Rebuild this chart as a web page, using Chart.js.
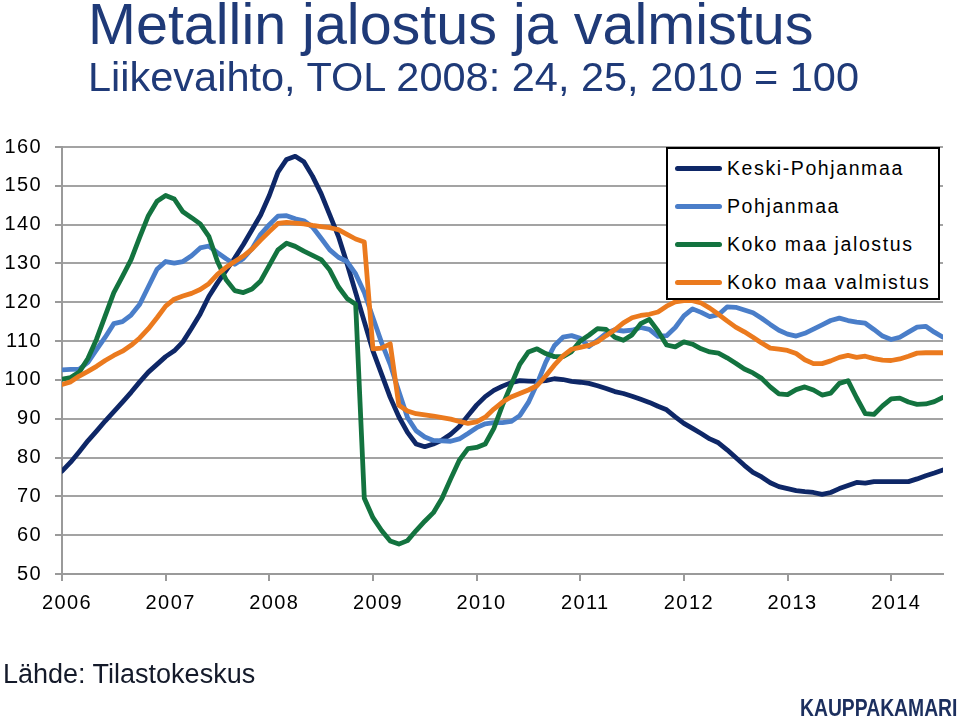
<!DOCTYPE html>
<html><head><meta charset="utf-8">
<script src="https://cdn.jsdelivr.net/npm/chart.js@4/dist/chart.umd.min.js"></script>
<style>
html,body{margin:0;padding:0;background:#fff;}
#wrap{position:relative;width:960px;height:720px;overflow:hidden;font-family:"Liberation Sans",Arial,sans-serif;}
canvas{position:absolute;left:0;top:0;}
.t{position:absolute;white-space:nowrap;line-height:1;}
#title{left:88px;top:-4px;font-size:57.5px;color:#1F3A78;}
#subtitle{left:88px;top:56px;font-size:41.5px;color:#1F3A78;}
#source{left:3px;top:661px;font-size:27px;color:#141a2a;}
#logo{left:800px;top:697px;font-size:23px;font-weight:bold;color:#1c2f5e;transform:scaleX(0.84);transform-origin:0 0;}
#legend{position:absolute;left:666px;top:147px;width:274px;height:153px;border:2px solid #000;box-sizing:border-box;background:#fff;}
.lline{position:absolute;height:5px;border-radius:2.5px;}
.ltext{position:absolute;white-space:nowrap;line-height:1;font-size:19.5px;letter-spacing:1.6px;color:#000;}
</style></head>
<body><div id="wrap">
<canvas id="c" width="960" height="720"></canvas>
<div class="t" id="title">Metallin jalostus ja valmistus</div>
<div class="t" id="subtitle">Liikevaihto, TOL 2008: 24, 25, 2010 = 100</div>
<div id="legend"></div>
<div class="t" id="source">Lähde: Tilastokeskus</div>
<div class="t" id="logo">KAUPPAKAMARI</div>
</div>
<script>
// Monthly data, Jan 2006 .. Jul 2014 (index 0 = Jan 2006)
const yearLabels = ['2006','2007','2008','2009','2010','2011','2012','2013','2014'];
const seriesNames = ['Keski-Pohjanmaa','Pohjanmaa','Koko maa jalostus','Koko maa valmistus'];
const seriesColors = ['#0E2767','#4A7EC9','#13733F','#EB7A1E'];

const keskiPohjanmaa = [76.5,78.8,81.5,84.3,86.8,89.4,91.8,94.3,96.8,99.5,
 102,104,106,107.5,109.8,113.3,117,121.5,125,128.2,
 131.4,134.9,138.7,142.5,147.5,153.5,156.8,157.6,156.2,152.5,
 148,142.5,137,130,122.5,115,107.5,101.5,95.5,90.5,
 86.5,83.5,82.8,83.5,84.5,86,88,90.8,93.5,95.7,
 97.3,98.4,99.3,99.8,99.7,99.6,99.8,100.3,100.1,99.6,
 99.4,99.1,98.5,97.8,97,96.5,95.8,95,94.2,93.2,
 92.3,90.5,88.8,87.5,86.2,84.8,83.8,82,80,78,
 76.2,75,73.5,72.5,72,71.5,71.2,71,70.5,71,
 72,72.8,73.6,73.4,73.8,73.8,73.8,73.8,73.8,74.5,
 75.3,76,76.8];

const pohjanmaa = [102.6,102.7,102.8,104.5,107.8,111,114.5,115,116.7,119.5,
 124,128.5,130.5,130.1,130.5,132,134,134.5,132.8,131.2,
 129.8,131.3,133.8,137.5,140,142.2,142.3,141.5,141,139.4,
 136.5,133.5,131.6,130.5,127.3,122.5,116,109.6,104,97,
 90.3,86.9,85.3,84.4,84.3,84.2,84.8,86.2,87.7,88.7,
 89,89,89.3,90.8,94.2,99,104.5,108.8,111,111.4,
 110.7,108.6,110.2,112,112.9,112.6,112.8,113.5,113,111.2,
 111.4,113.5,116.5,118.3,117.4,116.3,116.8,118.8,118.7,118,
 117.3,115.9,114.3,112.8,111.8,111.3,112,113.1,114.2,115.3,
 115.9,115.3,114.9,114.6,113,111.3,110.4,111,112.3,113.6,
 113.8,112.3,111];

const kokoMaaJalostus = [100.2,100.6,102,105.5,110.5,116.5,122.5,126.7,131,136.8,
 142.3,146,147.5,146.6,143.3,141.8,140.2,137,130.5,125.8,
 123,122.5,123.4,125.5,129.5,133.5,135.2,134.4,133.2,132.1,
 131,128.3,124,121,119.5,69.5,64.5,61.2,58.5,57.7,
 58.6,61.2,63.6,65.8,69.5,74.5,79.3,82.3,82.6,83.5,
 87.5,93.5,98.7,104,107.2,108,106.8,106,106,107.3,
 110,111.5,113.2,113,111,110.2,111.6,114.5,115.6,112.6,
 109,108.5,109.8,109.2,108,107.2,106.9,105.7,104.3,102.8,
 101.8,100.4,98.2,96.4,96.2,97.5,98.2,97.4,96.1,96.6,
 99.1,99.8,95.4,91.3,91.1,93.3,95.1,95.3,94.3,93.7,
 93.8,94.4,95.5];

const kokoMaaValmistus = [98.8,99.5,101,102.2,103.5,105,106.3,107.4,108.9,110.8,
 113.2,116,119,120.8,121.6,122.3,123.3,124.8,127.2,129,
 130.5,131.9,133.7,136,138.2,140.3,140.6,140.4,140.2,139.8,
 139.5,139.2,138.7,137.5,136.3,135.5,108,108.2,109.3,93.5,
 92,91.3,91,90.7,90.3,89.9,89.3,88.8,89.2,90.4,
 92.5,94.3,95.6,96.5,97.4,98.5,101,103.8,106.2,107.9,
 108.4,108.9,109.8,111.4,112.9,114.7,116,116.6,116.9,117.5,
 119,120.1,120.4,120.4,119.8,118.5,116.9,115.2,113.6,112.4,
 111,109.5,108.2,107.9,107.6,106.8,105.2,104.2,104.2,104.9,
 105.8,106.3,105.8,106.1,105.5,105.1,105,105.4,106.1,106.9,
 107,107,107];

const seriesValues = [keskiPohjanmaa, pohjanmaa, kokoMaaJalostus, kokoMaaValmistus];
const FONT = '"Liberation Sans", Arial, sans-serif';

const datasets = seriesNames.map((name, k) => ({
  label: name,
  data: seriesValues[k].map((v, i) => ({x: i, y: v})),
  borderColor: seriesColors[k],
  backgroundColor: seriesColors[k],
  borderWidth: 4.8,
  pointRadius: 0,
  tension: 0,
  borderJoinStyle: 'round',
  borderCapStyle: 'round',
  order: seriesNames.length - k
}));

const chart = new Chart(document.getElementById('c'), {
  type: 'line',
  data: {datasets},
  options: {
    responsive: false,
    animation: false,
    devicePixelRatio: 1,
    layout: {padding: {top: 147, right: 17, left: 0, bottom: 0}},
    plugins: {legend: {display: false}, tooltip: {enabled: false}},
    scales: {
      x: {
        type: 'linear', min: 0, max: keskiPohjanmaa.length - 1,
        afterFit(s) { s.height = 146; },
        grid: {drawOnChartArea: false, drawTicks: true, tickLength: 7, tickColor: '#9a9a9a', lineWidth: 2},
        border: {color: '#9a9a9a', width: 2},
        ticks: {
          stepSize: 12, includeBounds: false, autoSkip: false, maxRotation: 0,
          padding: 10, labelOffset: 5, color: '#000',
          font: {family: FONT, size: 20},
          callback: (v) => yearLabels[v / 12] ?? ''
        }
      },
      y: {
        min: 50, max: 160,
        afterFit(s) { s.width = 62; },
        grid: {color: '#a3a3a3', lineWidth: 2, tickLength: 7, tickColor: '#9a9a9a'},
        border: {color: '#9a9a9a', width: 2},
        ticks: {stepSize: 10, padding: 13, color: '#000', font: {family: FONT, size: 20}}
      }
    }
  },
  plugins: [{id: 'spacing', beforeDraw(c) { c.ctx.letterSpacing = '1.4px'; }}]
});

// Legend built from the chart's datasets
const wrap = document.getElementById('wrap');
const rowY = [168, 206.3, 244.6, 282.5];
chart.data.datasets.forEach((ds, k) => {
  const ln = document.createElement('div');
  ln.className = 'lline';
  ln.style.left = '675px'; ln.style.width = '47px';
  ln.style.top = (rowY[k] - 2.5) + 'px';
  ln.style.background = ds.borderColor;
  wrap.appendChild(ln);
  const tx = document.createElement('div');
  tx.className = 'ltext';
  tx.style.left = '727px';
  tx.style.top = (rowY[k] - 9.5) + 'px';
  tx.textContent = ds.label;
  wrap.appendChild(tx);
});
</script>
</body></html>
